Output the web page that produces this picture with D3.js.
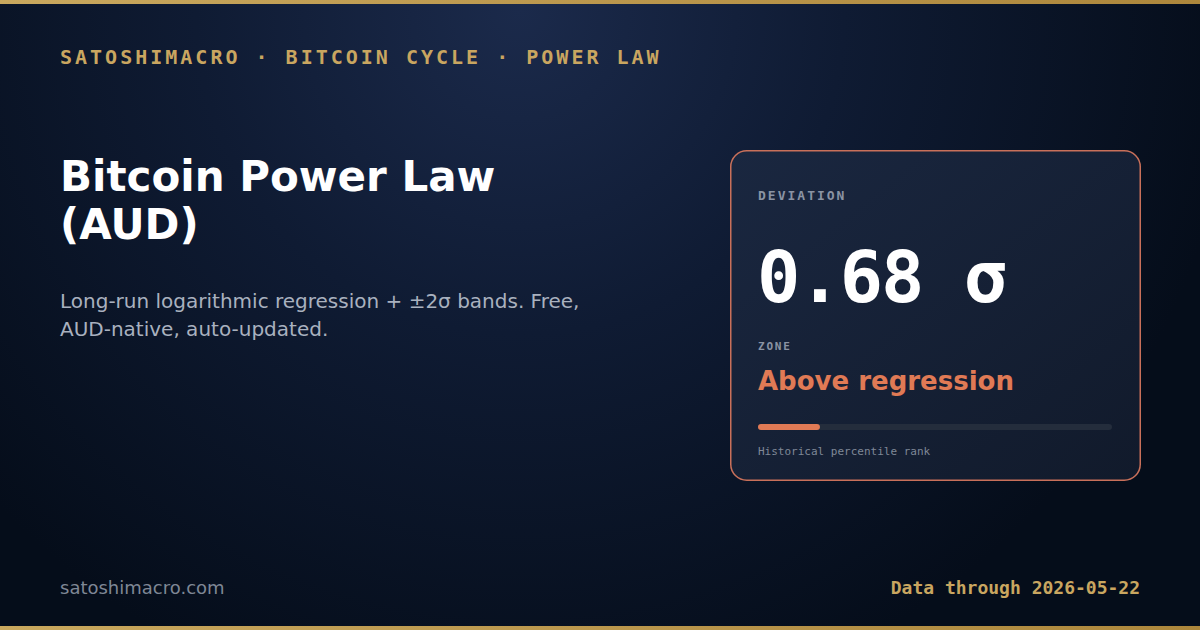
<!DOCTYPE html>
<html>
<head>
<meta charset="utf-8">
<script src="https://cdn.jsdelivr.net/npm/d3@7"></script>
<style>
  html, body { margin: 0; padding: 0; background: #060e1c; }
  svg { display: block; }
</style>
</head>
<body>
<div id="container"></div>
<script>
let kicker = 'SATOSHIMACRO · BITCOIN CYCLE · POWER LAW'
let titleLines = ['Bitcoin Power Law', '(AUD)']
let subtitleLines = ['Long-run logarithmic regression + ±2σ bands. Free,', 'AUD-native, auto-updated.']
let deviation = [0.68]
let zone = ['Above regression']
let percentile = [17.5]
let site = 'satoshimacro.com'
let dataDate = '2026-05-22'

let svgWidth = 1200
let svgHeight = 630
let mono = "'DejaVu Sans Mono', monospace"
let sans = "'DejaVu Sans', sans-serif"

let svg = d3.select('#container')
  .append('svg')
  .attr('width', svgWidth)
  .attr('height', svgHeight)

let defs = svg.append('defs')

let bg = defs.append('radialGradient')
  .attr('id', 'bg')
  .attr('gradientUnits', 'userSpaceOnUse')
  .attr('cx', 520).attr('cy', 10).attr('r', 720)
bg.append('stop').attr('offset', '0%').attr('stop-color', '#1b2a4b')
bg.append('stop').attr('offset', '45%').attr('stop-color', '#0f1b33')
bg.append('stop').attr('offset', '100%').attr('stop-color', '#050d1a')

let gold = defs.append('linearGradient').attr('id', 'gold')
gold.append('stop').attr('offset', '0%').attr('stop-color', '#c9a85e')
gold.append('stop').attr('offset', '100%').attr('stop-color', '#ad873c')

let cardFill = defs.append('linearGradient')
  .attr('id', 'cardFill')
  .attr('x1', 0).attr('y1', 0).attr('x2', 1).attr('y2', 1)
cardFill.append('stop').attr('offset', '0%').attr('stop-color', '#1a2740')
cardFill.append('stop').attr('offset', '100%').attr('stop-color', '#111a2b')

svg.append('rect')
  .attr('width', svgWidth).attr('height', svgHeight)
  .attr('fill', 'url(#bg)')

svg.append('rect').attr('x', 0).attr('y', 0).attr('width', svgWidth).attr('height', 4).attr('fill', 'url(#gold)')
svg.append('rect').attr('x', 0).attr('y', 626).attr('width', svgWidth).attr('height', 4).attr('fill', 'url(#gold)')

// header
svg.append('text')
  .attr('x', 60).attr('y', 64)
  .attr('fill', '#c9a660')
  .style('font-family', mono).style('font-weight', 'bold')
  .style('font-size', '20px').style('letter-spacing', '3px')
  .text(kicker)

svg.selectAll('text.title')
  .data(titleLines)
  .enter()
  .append('text')
  .attr('class', 'title')
  .attr('x', 60)
  .attr('y', (d, i) => 191 + i * 48)
  .attr('fill', '#ffffff')
  .style('font-family', sans).style('font-weight', 'bold')
  .style('font-size', '42px')
  .text(d => d)

svg.selectAll('text.sub')
  .data(subtitleLines)
  .enter()
  .append('text')
  .attr('class', 'sub')
  .attr('x', 60)
  .attr('y', (d, i) => 308 + i * 28)
  .attr('fill', '#a9b1bf')
  .style('font-family', sans)
  .style('font-size', '20px')
  .text(d => d)

// card
let card = svg.append('g').attr('transform', 'translate(730,150)')
card.append('rect')
  .attr('x', 0.75).attr('y', 0.75)
  .attr('width', 409.5).attr('height', 329.5)
  .attr('rx', 16)
  .attr('fill', 'url(#cardFill)')
  .attr('stroke', '#c9705a')
  .attr('stroke-width', 1.5)

card.append('text')
  .attr('x', 28).attr('y', 50)
  .attr('fill', '#8a93a3')
  .style('font-family', mono).style('font-weight', 'bold')
  .style('font-size', '13px').style('letter-spacing', '2px')
  .text('DEVIATION')

card.selectAll('text.value')
  .data(deviation)
  .enter()
  .append('text')
  .attr('class', 'value')
  .attr('x', 27).attr('y', 152)
  .attr('fill', '#ffffff')
  .style('font-family', mono).style('font-weight', 'bold')
  .style('font-size', '72px').style('letter-spacing', '-2px')
  .text(d => d3.format('.2f')(d) + ' σ')

card.append('text')
  .attr('x', 28).attr('y', 200)
  .attr('fill', '#8a93a3')
  .style('font-family', mono).style('font-weight', 'bold')
  .style('font-size', '11px').style('letter-spacing', '1.8px')
  .text('ZONE')

card.selectAll('text.zone')
  .data(zone)
  .enter()
  .append('text')
  .attr('class', 'zone')
  .attr('x', 28).attr('y', 240)
  .attr('fill', '#e07a55')
  .style('font-family', sans).style('font-weight', 'bold')
  .style('font-size', '26px')
  .text(d => d)

// percentile bar
let xScale = d3.scaleLinear()
  .domain([0, 100])
  .range([0, 354])

let bar = card.append('g').attr('transform', 'translate(28,274)')
bar.append('rect')
  .attr('width', xScale(100)).attr('height', 6)
  .attr('rx', 3)
  .attr('fill', '#242d3c')
bar.selectAll('rect.fill')
  .data(percentile)
  .enter()
  .append('rect')
  .attr('class', 'fill')
  .attr('width', d => xScale(d)).attr('height', 6)
  .attr('rx', 3)
  .attr('fill', '#e07a55')

card.append('text')
  .attr('x', 28).attr('y', 305)
  .attr('fill', '#7f8897')
  .style('font-family', mono)
  .style('font-size', '11px')
  .text('Historical percentile rank')

// footer
svg.append('text')
  .attr('x', 60).attr('y', 594)
  .attr('fill', '#7f8795')
  .style('font-family', sans)
  .style('font-size', '18px')
  .text(site)

svg.append('text')
  .attr('x', 1140).attr('y', 594)
  .attr('text-anchor', 'end')
  .attr('fill', '#c9a660')
  .style('font-family', mono).style('font-weight', 'bold')
  .style('font-size', '18px')
  .text('Data through ' + dataDate)
</script>
</body>
</html>
